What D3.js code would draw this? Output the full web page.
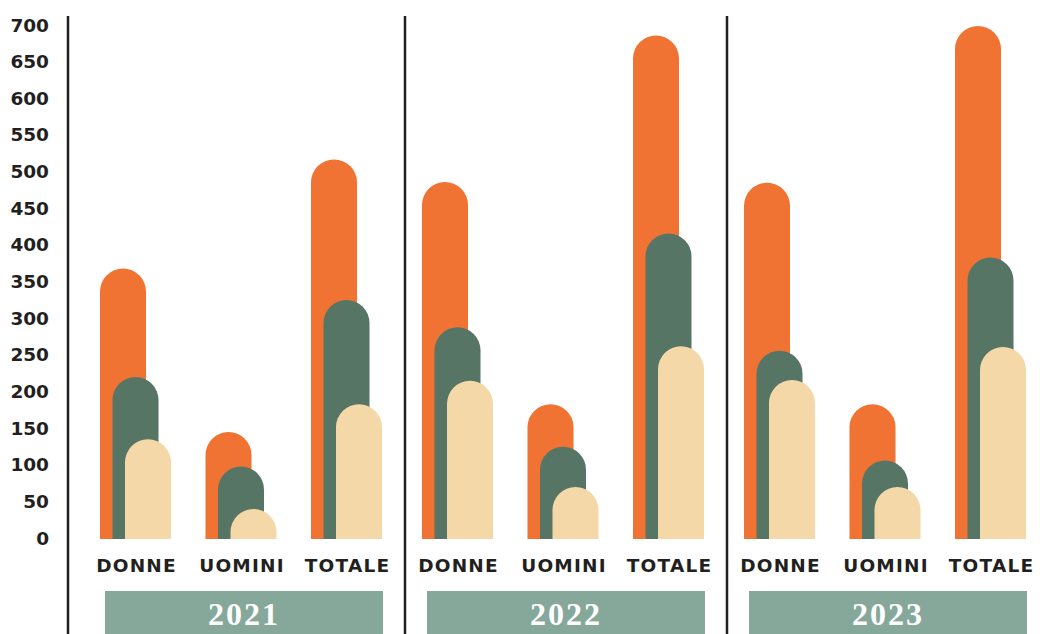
<!DOCTYPE html>
<html>
<head>
<meta charset="utf-8">
<script src="https://cdn.jsdelivr.net/npm/d3@7"></script>
<style>
  html, body { margin: 0; padding: 0; background: #ffffff; }
  svg { display: block; }
</style>
</head>
<body>
<svg id="chart" width="1040" height="634"></svg>
<script>
// ---- Data ----
const years = ["2021", "2022", "2023"];
const categories = ["DONNE", "UOMINI", "TOTALE"];
const series = ["serie1", "serie2", "serie3"];
// values per year, per category: [serie1, serie2, serie3]
const values2021 = [[369, 221, 136], [146, 99, 41], [518, 326, 184]];
const values2022 = [[487, 289, 216], [184, 126, 71], [687, 417, 263]];
const values2023 = [[486, 257, 217], [184, 107, 71], [700, 384, 262]];
const yTicks = [0, 50, 100, 150, 200, 250, 300, 350, 400, 450, 500, 550, 600, 650, 700];

const valuesByYear = { "2021": values2021, "2022": values2022, "2023": values2023 };
const colors = { serie1: "#f07333", serie2: "#577565", serie3: "#f5d8a8" };

const svg = d3.select("#chart");
const ink = "#231f20";

// ---- Scales ----
const y = d3.scaleLinear().domain([0, 700]).range([539, 26]);
const groupX = d3.scaleBand().domain(years).range([93, 93 + 3 * 322]);
const catX = d3.scaleBand().domain(categories).range([7, 7 + 3 * 105.5]);
const seriesX = d3.scalePoint().domain(series).range([0, 25]);
const barW = 46;
const clusterW = 25 + barW;

// ---- Y axis labels ----
svg.append("g").selectAll("text").data(yTicks).join("text")
  .attr("x", 49)
  .attr("y", d => y(d) - 1)
  .attr("text-anchor", "end")
  .attr("dominant-baseline", "central")
  .attr("font-family", "DejaVu Sans, sans-serif")
  .attr("font-weight", "bold")
  .attr("font-size", 18.5)
  .attr("fill", ink)
  .text(d => d);

// ---- Axis / divider lines ----
const lineXs = [68].concat(years.slice(1).map(yr => groupX(yr) - 10));
svg.append("g").selectAll("line").data(lineXs).join("line")
  .attr("x1", d => d).attr("x2", d => d)
  .attr("y1", y(700) - 10).attr("y2", 634)
  .attr("stroke", ink).attr("stroke-width", 2.5);

// ---- Bars ----
function barPath(x, top, base, w) {
  const r = w / 2;
  const t = Math.min(top + r, base);
  return `M${x},${base}V${t}A${r},${r} 0 0 1 ${x + w},${t}V${base}Z`;
}

const barData = [];
years.forEach(yr => {
  categories.forEach((c, ci) => {
    series.forEach((s, si) => {
      barData.push({ year: yr, cat: c, series: s, si, value: valuesByYear[yr][ci][si] });
    });
  });
});
barData.sort((a, b) => a.si - b.si);

svg.append("g").selectAll("path").data(barData).join("path")
  .attr("d", d => barPath(groupX(d.year) + catX(d.cat) + seriesX(d.series), y(d.value), y(0), barW))
  .attr("fill", d => colors[d.series]);

// ---- Category labels ----
const labelData = [];
years.forEach(yr => categories.forEach(c => labelData.push({ year: yr, cat: c })));
svg.append("g").selectAll("text").data(labelData).join("text")
  .attr("x", d => groupX(d.year) + catX(d.cat) + clusterW / 2 + 1)
  .attr("y", 572)
  .attr("text-anchor", "middle")
  .attr("font-family", "DejaVu Sans, sans-serif")
  .attr("font-weight", "bold")
  .attr("font-size", 18.5)
  .attr("letter-spacing", 1.2)
  .attr("fill", ink)
  .text(d => d.cat);

// ---- Year boxes ----
const boxW = 278;
const yearG = svg.append("g").selectAll("g").data(years).join("g")
  .attr("transform", d => `translate(${groupX(d) + catX("UOMINI") + clusterW / 2 + 3},0)`);
yearG.append("rect")
  .attr("x", -boxW / 2).attr("y", 591)
  .attr("width", boxW).attr("height", 50)
  .attr("fill", "#86a89b");
yearG.append("text")
  .attr("x", 0).attr("y", 625)
  .attr("text-anchor", "middle")
  .attr("font-family", "Liberation Serif, DejaVu Serif, serif")
  .attr("font-weight", "bold")
  .attr("font-size", 32)
  .attr("letter-spacing", 2)
  .attr("fill", "#ffffff")
  .text(d => d);
</script>
</body>
</html>
